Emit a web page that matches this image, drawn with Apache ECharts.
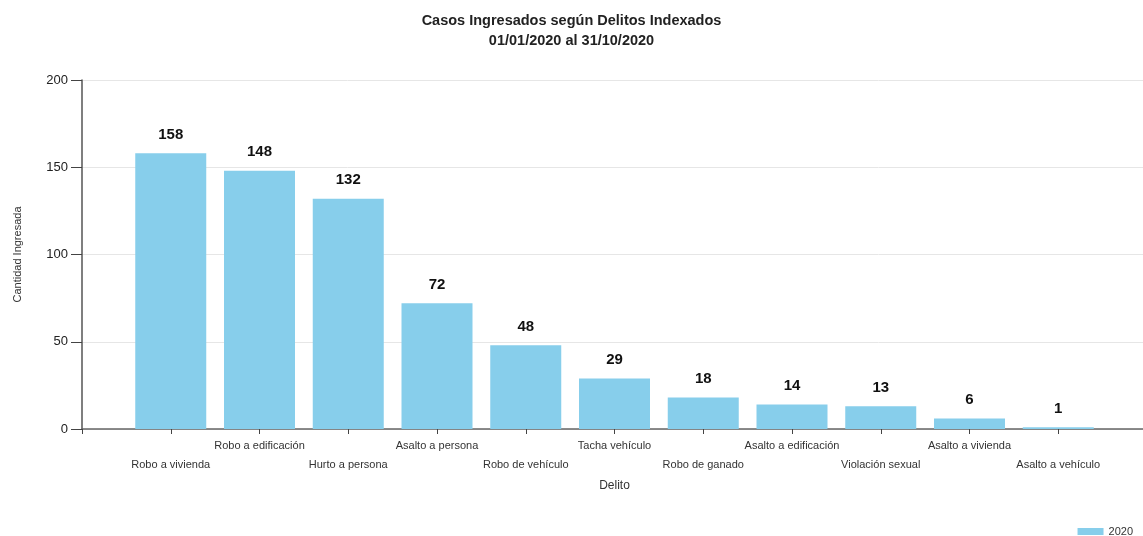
<!DOCTYPE html>
<html>
<head>
<meta charset="utf-8">
<script src="https://cdn.jsdelivr.net/npm/echarts@6/dist/echarts.min.js"></script>
<style>
  html, body { margin: 0; padding: 0; background: #fff; }
  #chart { width: 1143px; height: 536px; }
</style>
</head>
<body>
<div id="chart"></div>
<script>
// datos
const categories = ['Robo a vivienda', 'Robo a edificación', 'Hurto a persona', 'Asalto a persona',
  'Robo de vehículo', 'Tacha vehículo', 'Robo de ganado', 'Asalto a edificación',
  'Violación sexual', 'Asalto a vivienda', 'Asalto a vehículo'];
const values2020 = [158, 148, 132, 72, 48, 29, 18, 14, 13, 6, 1];
const yTicks = [0, 50, 100, 150, 200];

let myChart = echarts.init(document.getElementById('chart'));
const font = 'Liberation Sans, Arial, sans-serif';

// las categorias se ubican en un eje numerico para dejar el margen antes de la primera barra
let option = {
  animation: false,
  textStyle: { fontFamily: font },
  title: {
    text: 'Casos Ingresados según Delitos Indexados\n01/01/2020 al 31/10/2020',
    left: 'center',
    top: 6,
    textStyle: { fontSize: 14.5, fontWeight: 'bold', color: '#222', lineHeight: 20, fontFamily: font }
  },
  legend: {
    data: ['2020'],
    right: 10,
    bottom: -1,
    padding: 0,
    icon: 'rect',
    itemWidth: 26,
    itemHeight: 7,
    itemGap: 5,
    textStyle: { fontSize: 11, color: '#333', fontFamily: font }
  },
  grid: { left: 82, right: -4, top: 80, bottom: 107, outerBoundsMode: 'none' },
  xAxis: {
    type: 'value',
    min: -1,
    max: 11,
    interval: 1,
    name: 'Delito',
    nameLocation: 'middle',
    nameGap: 51,
    nameTextStyle: { fontSize: 12, color: '#333', fontFamily: font },
    splitLine: { show: false },
    axisLine: { onZero: false, lineStyle: { color: '#666', width: 1.5 } },
    axisTick: { length: 5, lineStyle: { color: '#444' } },
    axisLabel: {
      margin: 7,
      fontSize: 11,
      lineHeight: 19,
      color: '#333',
      fontFamily: font,
      showMinLabel: true,
      showMaxLabel: true,
      formatter: function (val) {
        const i = Math.round(val);
        if (val !== i || i < 0 || i >= categories.length) return '';
        return i % 2 === 0 ? '\n' + categories[i] : categories[i];
      }
    }
  },
  yAxis: {
    type: 'value',
    min: yTicks[0],
    max: yTicks[yTicks.length - 1],
    interval: 50,
    name: 'Cantidad Ingresada',
    nameLocation: 'middle',
    nameGap: 59,
    nameTextStyle: { fontSize: 11, color: '#333', fontFamily: font },
    axisLine: { show: true, onZero: false, lineStyle: { color: '#555', width: 1.5 } },
    axisTick: { show: true, length: 11, lineStyle: { color: '#444' } },
    axisLabel: { margin: 14, fontSize: 13, color: '#222', fontFamily: font },
    splitLine: { lineStyle: { color: '#e6e6e6' } }
  },
  series: [
    {
      name: '2020',
      type: 'bar',
      barWidth: 71,
      itemStyle: { color: '#87ceeb' },
      label: {
        show: true,
        position: 'top',
        distance: 11,
        fontSize: 15,
        fontWeight: 'bold',
        color: '#111',
        fontFamily: font,
        formatter: function (p) { return p.value[1]; }
      },
      data: values2020.map(function (v, i) { return [i, v]; })
    }
  ]
};

myChart.setOption(option);
</script>
</body>
</html>
